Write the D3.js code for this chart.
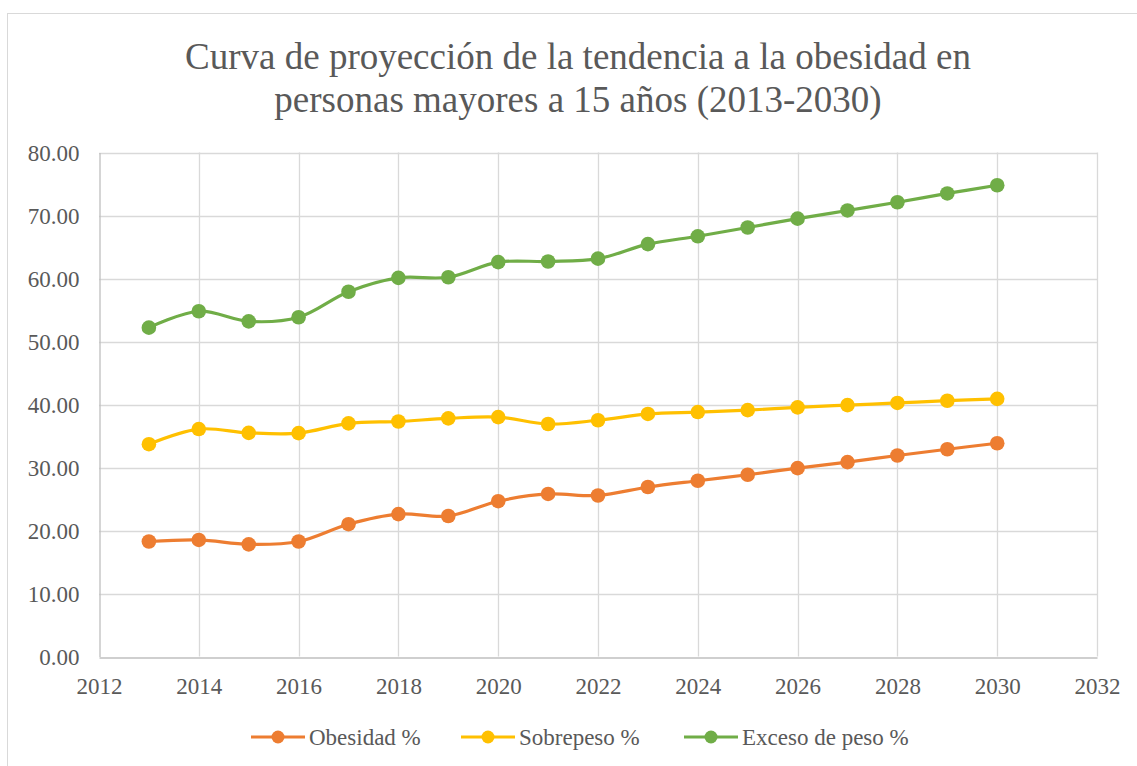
<!DOCTYPE html>
<html>
<head>
<meta charset="utf-8">
<script src="https://cdn.jsdelivr.net/npm/d3@7"></script>
<style>
  body { margin: 0; background: #fff; }
  text { font-family: "Liberation Serif", "Times New Roman", serif; fill: #595959; }
</style>
</head>
<body>
<script>
var years = [2013, 2014, 2015, 2016, 2017, 2018, 2019, 2020, 2021, 2022,
             2023, 2024, 2025, 2026, 2027, 2028, 2029, 2030];

var obesidad = [18.25, 18.5, 17.8, 18.25, 21.0, 22.6, 22.3, 24.65, 25.8, 25.55,
                26.9, 27.9, 28.85, 29.9, 30.85, 31.9, 32.9, 33.85];
var sobrepeso = [33.7, 36.1, 35.5, 35.45, 37.0, 37.3, 37.8, 38.0, 36.9, 37.5,
                 38.5, 38.8, 39.1, 39.55, 39.9, 40.25, 40.6, 40.9];
var exceso = [52.2, 54.8, 53.2, 53.85, 57.9, 60.1, 60.2, 62.6, 62.7, 63.15,
              65.45, 66.7, 68.1, 69.5, 70.8, 72.1, 73.5, 74.8];

var seriesNames = ["Obesidad %", "Sobrepeso %", "Exceso de peso %"];
var seriesColors = ["#ED7D31", "#FFC000", "#70AD47"];

var xTicks = [2012, 2014, 2016, 2018, 2020, 2022, 2024, 2026, 2028, 2030, 2032];
var yTicks = [0, 10, 20, 30, 40, 50, 60, 70, 80];

var titleLines = ["Curva de proyección de la tendencia a la obesidad en",
                  "personas mayores a 15 años (2013-2030)"];

var width = 1137,
    height = 766;

var svg = d3.select("body").append("svg")
    .attr("width", width)
    .attr("height", height);

// chart area border (cut off at right and bottom like the source)
svg.append("rect")
    .attr("x", 7.5)
    .attr("y", 13.5)
    .attr("width", 1150)
    .attr("height", 800)
    .attr("fill", "#fff")
    .attr("stroke", "#D9D9D9")
    .attr("stroke-width", 1);

var plot = {left: 99, right: 1097, top: 152.5, bottom: 656.5};

var x = d3.scaleLinear()
    .domain([2012, 2032])
    .range([plot.left, plot.right]);

var y = d3.scaleLinear()
    .domain([0, 80])
    .range([plot.bottom, plot.top]);

// title
svg.append("text")
    .attr("text-anchor", "middle")
    .style("font-size", "37px")
    .selectAll("tspan")
    .data(titleLines)
    .enter().append("tspan")
      .attr("x", 578)
      .attr("y", function(d, i) { return 69 + i * 43; })
      .text(function(d) { return d; });

// gridlines
var grid = svg.append("g");

grid.selectAll(".hgrid")
    .data(yTicks.filter(function(d) { return d > 0; }))
    .enter().append("line")
      .attr("x1", plot.left)
      .attr("x2", plot.right)
      .attr("y1", function(d) { return Math.round(y(d)) + 0.5; })
      .attr("y2", function(d) { return Math.round(y(d)) + 0.5; })
      .attr("stroke", "#D9D9D9")
      .attr("stroke-width", 1.3);

grid.selectAll(".vgrid")
    .data(xTicks.filter(function(d) { return d > 2012; }))
    .enter().append("line")
      .attr("x1", function(d) { return Math.round(x(d)) + 0.5; })
      .attr("x2", function(d) { return Math.round(x(d)) + 0.5; })
      .attr("y1", plot.top)
      .attr("y2", plot.bottom)
      .attr("stroke", "#D9D9D9")
      .attr("stroke-width", 1.3);

// axes
var xAxis = d3.axisBottom(x)
    .tickValues(xTicks)
    .tickFormat(d3.format("d"))
    .tickSize(0)
    .tickPadding(20);

var yAxis = d3.axisLeft(y)
    .tickValues(yTicks)
    .tickFormat(d3.format(".2f"))
    .tickSize(0)
    .tickPadding(20);

var gx = svg.append("g")
    .attr("transform", "translate(0," + (Math.round(plot.bottom) + 0.5) + ")")
    .call(xAxis);

var gy = svg.append("g")
    .attr("transform", "translate(" + (plot.left + 0.5) + ",0)")
    .call(yAxis);

[gx, gy].forEach(function(g) {
  g.select(".domain").attr("stroke", "#BFBFBF").attr("stroke-width", 1.3);
  g.selectAll("text")
    .attr("fill", "#595959")
    .style("font-family", "'Liberation Serif', 'Times New Roman', serif")
    .style("font-size", "23px");
});

gy.selectAll("text").attr("dy", "0.34em");

// series
var line = d3.line()
    .curve(d3.curveCatmullRom.alpha(0.5))
    .x(function(d) { return x(d.year); })
    .y(function(d) { return y(d.value); });

var seriesData = [obesidad, sobrepeso, exceso].map(function(vals, i) {
  return {
    name: seriesNames[i],
    color: seriesColors[i],
    points: vals.map(function(v, j) { return {year: years[j], value: v}; })
  };
});

var series = svg.selectAll(".series")
    .data(seriesData)
    .enter().append("g")
      .attr("class", "series");

series.append("path")
    .attr("d", function(d) { return line(d.points); })
    .attr("fill", "none")
    .attr("stroke", function(d) { return d.color; })
    .attr("stroke-width", 3.2)
    .attr("stroke-linejoin", "round");

series.selectAll("circle")
    .data(function(d) { return d.points.map(function(p) { return {p: p, color: d.color}; }); })
    .enter().append("circle")
      .attr("cx", function(d) { return x(d.p.year); })
      .attr("cy", function(d) { return y(d.p.value); })
      .attr("r", 7.3)
      .attr("fill", function(d) { return d.color; });

// legend
var legendX = [251, 461, 684];

var legend = svg.selectAll(".legend")
    .data(seriesData)
    .enter().append("g")
      .attr("class", "legend")
      .attr("transform", function(d, i) { return "translate(" + legendX[i] + ",737)"; });

legend.append("line")
    .attr("x1", 0)
    .attr("x2", 54)
    .attr("stroke", function(d) { return d.color; })
    .attr("stroke-width", 3.2);

legend.append("circle")
    .attr("cx", 27)
    .attr("r", 6.5)
    .attr("fill", function(d) { return d.color; });

legend.append("text")
    .attr("x", 58)
    .attr("dy", "0.34em")
    .style("font-size", "23px")
    .text(function(d) { return d.name; });
</script>
</body>
</html>
